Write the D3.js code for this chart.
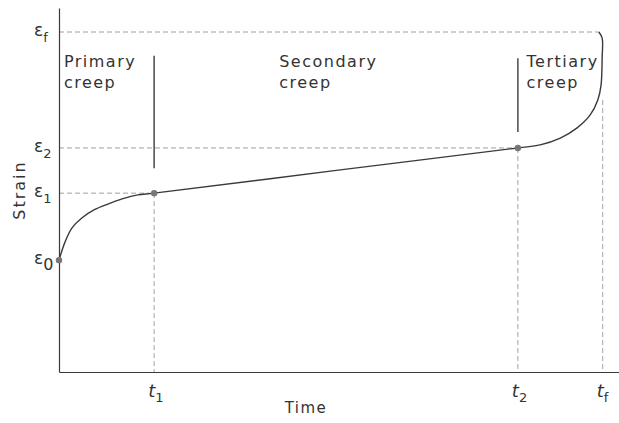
<!DOCTYPE html>
<html><head><meta charset="utf-8">
<script src="https://cdn.jsdelivr.net/npm/d3@7"></script>
<style>body{margin:0;background:#fff}svg{display:block}</style>
</head><body><svg id="c" width="619" height="423"></svg>
<script>
// Creep curve (time, strain) in arbitrary units
const curveTime   = [0, 0.11, 0.24, 0.42, 0.66, 0.90, 1.16, 1.45, 1.75, 5.1, 8.44, 8.85, 9.22, 9.53, 9.77, 9.91, 9.97, 9.99, 9.99, 9.93];
const curveStrain = [3.29, 3.82, 4.24, 4.53, 4.78, 4.94, 5.09, 5.21, 5.26, 5.93, 6.59, 6.68, 6.88, 7.18, 7.56, 8.0, 8.44, 9.24, 9.82, 10.0];
const markTimes   = [1.75, 8.44, 10.0];      // t1, t2, tf
const markLabels  = ["1", "2", "f"];
const strainLevels = [3.29, 5.26, 6.59, 10.0]; // e0, e1, e2, ef
const strainLabels = ["0", "1", "2", "f"];
const dotTimes   = [0, 1.75, 8.44];
const dotStrains = [3.29, 5.26, 6.59];
const stageNames = [["Primary", "creep"], ["Secondary", "creep"], ["Tertiary", "creep"]];
const stageTimes = [0.09, 4.05, 8.6];

const svg = d3.select("#c");
const x = d3.scaleLinear().domain([0, 10.3]).range([59, 619]);
const y = d3.scaleLinear().domain([0, 10]).range([372, 32]);
const lineCol = "#3a3a3a", dashCol = "#a0a0a0", txt = "#333";

// dashed guide lines
const g = svg.append("g").attr("stroke", dashCol).attr("stroke-width", 1).attr("stroke-dasharray", "5,3").attr("fill", "none");
g.append("line").attr("x1", x(0)).attr("x2", x(markTimes[0])).attr("y1", y(strainLevels[1])).attr("y2", y(strainLevels[1]));
g.append("line").attr("x1", x(0)).attr("x2", x(markTimes[1])).attr("y1", y(strainLevels[2])).attr("y2", y(strainLevels[2]));
g.append("line").attr("x1", x(0)).attr("x2", x(9.93)).attr("y1", y(strainLevels[3])).attr("y2", y(strainLevels[3]));
g.append("line").attr("x1", x(markTimes[0])).attr("x2", x(markTimes[0])).attr("y1", y(strainLevels[1])).attr("y2", y(0));
g.append("line").attr("x1", x(markTimes[1])).attr("x2", x(markTimes[1])).attr("y1", y(strainLevels[2])).attr("y2", y(0));
g.append("line").attr("x1", x(markTimes[2])).attr("x2", x(markTimes[2])).attr("y1", y(8.0)).attr("y2", y(0));

// axes
svg.append("g").attr("transform", `translate(${x(0)},0)`)
  .call(d3.axisLeft(d3.scaleLinear().domain([0, 10.7]).range([372, 8])).tickValues([]).tickSizeOuter(0))
  .select(".domain").attr("stroke", lineCol).attr("stroke-width", 1.2);
svg.append("g").attr("transform", `translate(0,${y(0)})`)
  .call(d3.axisBottom(x).tickValues([]).tickSizeOuter(0))
  .select(".domain").attr("stroke", lineCol).attr("stroke-width", 1.2);

// stage separator marks
svg.append("line").attr("x1", x(markTimes[0])).attr("x2", x(markTimes[0])).attr("y1", y(9.3)).attr("y2", y(5.99))
  .attr("stroke", "#555").attr("stroke-width", 1.6);
svg.append("line").attr("x1", x(markTimes[1])).attr("x2", x(markTimes[1])).attr("y1", y(9.23)).attr("y2", y(7.06))
  .attr("stroke", "#555").attr("stroke-width", 1.6);

// curve
const pts = curveTime.map((t, i) => [t, curveStrain[i]]);
svg.append("path").datum(pts)
  .attr("d", d3.line().x(d => x(d[0])).y(d => y(d[1])).curve(d3.curveCatmullRom.alpha(0.5)))
  .attr("fill", "none").attr("stroke", lineCol).attr("stroke-width", 1.4);

// dots
svg.selectAll("circle.dot").data(dotTimes).enter().append("circle")
  .attr("cx", (d) => x(d)).attr("cy", (d, i) => y(dotStrains[i])).attr("r", 3.2).attr("fill", "#777");

const font = "DejaVu Sans";
strainLabels.forEach((s, i) => {
  const t = svg.append("text").attr("x", 34).attr("y", y(strainLevels[i]) + 4)
    .attr("font-family", font).attr("font-size", 17).attr("fill", txt);
  t.append("tspan").text("ε");
  t.append("tspan").attr("dy", 6).attr("font-size", i === 0 ? 16 : 13).text(s);
});
markLabels.forEach((s, i) => {
  const t = svg.append("text").attr("x", x(markTimes[i]) - 6).attr("y", 397)
    .attr("font-family", font).attr("font-style", "italic").attr("font-size", 18).attr("fill", txt);
  t.append("tspan").text("t");
  t.append("tspan").attr("dy", 5).attr("font-size", 13).attr("font-style", "normal").text(s);
});
svg.append("text").attr("x", 306).attr("y", 413).attr("text-anchor", "middle")
  .attr("font-family", font).attr("font-size", 15).attr("letter-spacing", 1.5).attr("fill", txt).text("Time");
svg.append("text").attr("transform", "translate(25,190) rotate(-90)").attr("text-anchor", "middle")
  .attr("font-family", font).attr("font-size", 16).attr("letter-spacing", 2).attr("fill", txt).text("Strain");
stageNames.forEach((lines, i) => {
  lines.forEach((l, j) => {
    svg.append("text").attr("x", x(stageTimes[i])).attr("y", 67 + j * 21)
      .attr("font-family", font).attr("font-size", 16).attr("letter-spacing", 1.5).attr("fill", txt).text(l);
  });
});
</script></body></html>
